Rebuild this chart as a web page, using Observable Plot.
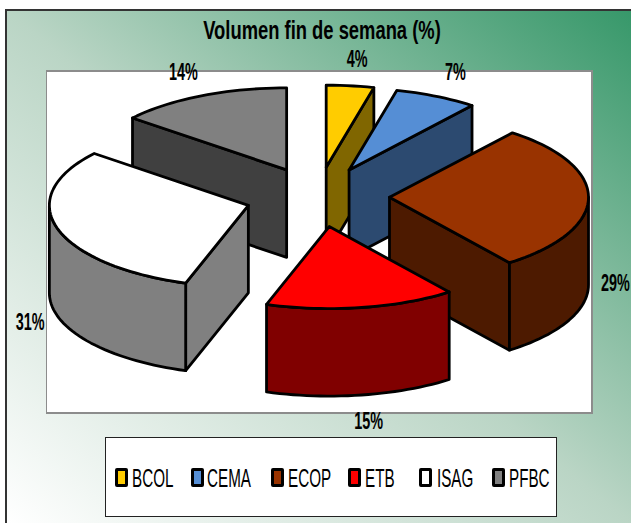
<!DOCTYPE html>
<html><head><meta charset="utf-8">
<script src="https://cdn.jsdelivr.net/npm/d3@7"></script>
<script src="https://cdn.jsdelivr.net/npm/@observablehq/plot@0.6"></script>
<style>
html,body{margin:0;padding:0;background:#fff}
#page{position:relative;width:631px;height:523px;overflow:hidden;font-family:"Liberation Sans",Arial,sans-serif}
#frame{position:absolute;left:5px;top:9px;right:0;bottom:0;border-top:2px solid #333;border-left:2px solid #333;
 background:linear-gradient(to bottom left,#37986A 0%,#BAD5C5 50%,#FFFFFF 100%)}
#panel{position:absolute;left:46px;top:70px;background:#fff;border:2px solid #8c8c8c;border-left-width:1px;box-sizing:border-box;width:547px;height:344px}
#title{position:absolute;left:322px;top:16px;white-space:nowrap;font-weight:bold;font-size:25px;line-height:28px;color:#000;transform:translateX(-50%) scaleX(.735)}
#legend{position:absolute;left:105px;top:437px;width:452px;height:80px;box-sizing:border-box;background:#fff;border:1px solid #222}
.sw{position:absolute;top:30px;width:13px;height:19px;box-sizing:border-box;border:3px solid #000;border-radius:2px}
.lb{position:absolute;top:26px;font-size:26px;line-height:28px;white-space:nowrap;transform-origin:0 50%;transform:scaleX(.585);color:#000}
svg{position:absolute;left:0;top:0;background:transparent!important}
</style></head>
<body><div id="page"><div id="frame"></div><div id="panel"></div><div id="title">Volumen fin de semana (%)</div><div id="legend"></div></div>
<script>
// data
const categories = ["BCOL","CEMA","ECOP","ETB","ISAG","PFBC"];
const shares = [3.85,6.75,29.1,15.4,30.8,14.1];
const topColors = ["#FFCC00","#558ED5","#993300","#FF0000","#FFFFFF","#808080"];
const sideColors = ["#806600","#2C4A70","#4D1A00","#800000","#808080","#404040"];

// 3-D pie geometry (chart units)
const cx = 317, cy = 196.5, rx = 199, ry = 82, depth = 87.5, explodeX = 72, explodeY = 30;
const labelShift = [[7,-27],[19,-25],[27,85],[7,113],[-27,94],[-18,-24]];
const legendSwatchX = [9,85,165,242,313,386];
const legendTextX = [26,101,182,259,331,403];

const rad = d => d * Math.PI / 180;
let acc = 0;
const slices = categories.map((name,i) => {
  const a0 = acc * 3.6; acc += shares[i]; const a1 = acc * 3.6; const mid = (a0+a1)/2;
  return {name,i,a0,a1,mid,ax:cx+explodeX*Math.sin(rad(mid)),ay:cy-explodeY*Math.cos(rad(mid))};
});
const rim = (s,a,dz=0) => ({x:s.ax+rx*Math.sin(rad(a)),y:s.ay-ry*Math.cos(rad(a))+dz});
const arcAngles = (a0,a1) => { const out=[]; const n=Math.max(2,Math.ceil((a1-a0)/2)); for(let k=0;k<=n;k++) out.push(a0+(a1-a0)*k/n); return out; };

const faces = [];
function addFace(id,color,pts){ [...pts,pts[0]].forEach(p=>faces.push({face:id,color,x:p.x,y:p.y})); }
[...slices].sort((a,b)=>a.ay-b.ay).forEach(s=>{
  const side = sideColors[s.i];
  const apexTop={x:s.ax,y:s.ay}, apexBot={x:s.ax,y:s.ay+depth};
  // radial walls, visible only when facing the viewer
  [[s.a0,s.a0-90],[s.a1,s.a1+90]].forEach(([a,n],k)=>{
    if(Math.cos(rad(n))<-1e-6) addFace(s.name+"-wall"+k,side,[apexTop,rim(s,a),rim(s,a,depth),apexBot]);
  });
  // outer wall, front half of the ellipse
  const f0=Math.max(s.a0,90), f1=Math.min(s.a1,270);
  if(f1>f0){
    const as=arcAngles(f0,f1);
    addFace(s.name+"-outer",side,[...as.map(a=>rim(s,a)),...as.slice().reverse().map(a=>rim(s,a,depth))]);
  }
  addFace(s.name+"-top",topColors[s.i],[apexTop,...arcAngles(s.a0,s.a1).map(a=>rim(s,a))]);
});

const labels = slices.map(s=>{
  const p=rim(s,s.mid);
  return {text:Math.round(shares[s.i])+"%",x:p.x+labelShift[s.i][0],y:p.y+labelShift[s.i][1]+0.5};
});

const chart = Plot.plot({
  width:631,height:523,margin:0,
  x:{domain:[0,631],axis:null},
  y:{domain:[523,0],axis:null},
  color:{type:"identity"},
  style:{background:"transparent"},
  marks:[
    Plot.line(faces,{x:"x",y:"y",z:"face",fill:"color",stroke:"#000",strokeWidth:2.8,strokeLinejoin:"round",curve:"linear"}),
    Plot.text(labels,{x:"x",y:"y",text:"text",fontSize:24,fontWeight:"bold",fill:"#000",fontFamily:"Liberation Sans",textAnchor:"middle",lineAnchor:"middle",className:"pct"})
  ]
});
document.getElementById("page").appendChild(chart);
chart.querySelectorAll(".pct text").forEach(t=>{
  const tr=t.getAttribute("transform")||"";
  t.setAttribute("transform",tr+" scale(.6,1)");
});
const legend=document.getElementById("legend");
categories.forEach((c,i)=>{
  const sw=document.createElement("span"); sw.className="sw"; sw.style.left=legendSwatchX[i]+"px"; sw.style.background=topColors[i]; legend.appendChild(sw);
  const lb=document.createElement("span"); lb.className="lb"; lb.style.left=legendTextX[i]+"px"; lb.textContent=c; legend.appendChild(lb);
});
</script></body></html>
